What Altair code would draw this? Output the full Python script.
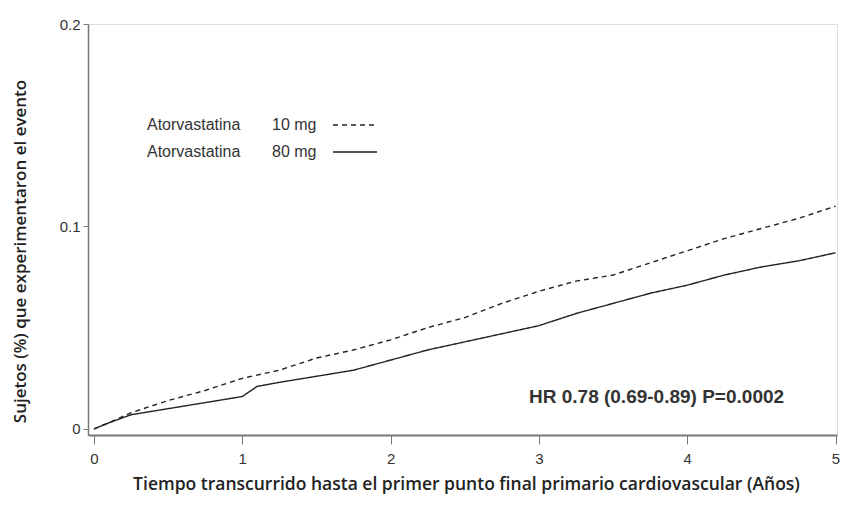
import altair as alt
import pandas as pd

# Years of follow-up
t10 = [0, 0.1, 0.25, 0.5, 0.75, 1.0, 1.25, 1.5, 1.75, 2.0, 2.25, 2.5, 2.75, 3.0,
       3.25, 3.5, 3.75, 4.0, 4.25, 4.5, 4.75, 5.0]
p10 = [0, 0.003, 0.008, 0.014, 0.019, 0.025, 0.029, 0.035, 0.039, 0.044, 0.050,
       0.055, 0.062, 0.068, 0.073, 0.076, 0.082, 0.088, 0.094, 0.099, 0.104, 0.110]
t80 = [0, 0.1, 0.25, 0.5, 0.75, 1.0, 1.1, 1.25, 1.5, 1.75, 2.0, 2.25, 2.5, 2.75,
       3.0, 3.25, 3.5, 3.75, 4.0, 4.25, 4.5, 4.75, 5.0]
p80 = [0, 0.003, 0.007, 0.010, 0.013, 0.016, 0.021, 0.023, 0.026, 0.029, 0.034,
       0.039, 0.043, 0.047, 0.051, 0.057, 0.062, 0.067, 0.071, 0.076, 0.080, 0.083,
       0.087]
series = ["Atorvastatina 10 mg", "Atorvastatina 80 mg"]
legend_drug = ["Atorvastatina", "Atorvastatina"]
legend_dose = ["10 mg", "80 mg"]
hr_text = "HR 0.78 (0.69-0.89)  P=0.0002"
x_ticks = [0, 1, 2, 3, 4, 5]
y_ticks = [0, 0.1, 0.2]

df = pd.concat([
    pd.DataFrame({"t": t10, "p": p10, "grupo": series[0]}),
    pd.DataFrame({"t": t80, "p": p80, "grupo": series[1]}),
])

W, H = 749, 411
ink = "#222222"

x = alt.X("t:Q", scale=alt.Scale(domain=[-0.04, 5.01], nice=False, zero=False),
          axis=alt.Axis(values=x_ticks, format="d", grid=False, tickSize=9,
                        labelPadding=7, labelFontSize=15, labelFont="Liberation Sans",
                        labelColor="#333", domainColor="#777", domainWidth=2,
                        tickColor="#777", title="Tiempo transcurrido hasta el primer punto final primario cardiovascular (Años)",
                        titleFont="Open Sans", titleFontSize=17.5, titleFontWeight=600,
                        titleColor="#222", titlePadding=9, titleX=378))
y = alt.Y("p:Q", scale=alt.Scale(domain=[-0.003, 0.2], nice=False, zero=False),
          axis=alt.Axis(values=y_ticks, format="~g", grid=False, tickSize=5,
                        labelPadding=3, labelFontSize=15, labelFont="Liberation Sans",
                        labelColor="#333", domainColor="#777", domainWidth=1.5,
                        tickColor="#777", title="Sujetos (%) que experimentaron el evento",
                        titleFont="Open Sans", titleFontSize=17, titleFontWeight=600,
                        titleColor="#222", titlePadding=30, titleY=227))

dash = alt.StrokeDash("grupo:N", scale=alt.Scale(domain=series, range=[[5, 4], [1, 0]]),
                      legend=None)

lines = alt.Chart(df).mark_line(color=ink, strokeWidth=1.4).encode(x=x, y=y, strokeDash=dash)

leg_df = pd.DataFrame({"drug": legend_drug, "dose": legend_dose, "grupo": series,
                       "row": [0, 1]})
row_y = alt.Y("row:Q", scale=alt.Scale(domain=[0, 1], range=[101, 128]), axis=None)
leg_drug = alt.Chart(leg_df).mark_text(align="left", baseline="middle", fontSize=16,
                                       font="Liberation Sans", color="#333").encode(
    x=alt.value(59), y=row_y, text="drug:N")
leg_dose = alt.Chart(leg_df).mark_text(align="left", baseline="middle", fontSize=16,
                                       font="Liberation Sans", color="#333").encode(
    x=alt.value(184), y=row_y, text="dose:N")
leg_line = alt.Chart(leg_df).mark_rule(color=ink, strokeWidth=1.4).encode(
    x=alt.value(245), x2=alt.value(289), y=row_y, strokeDash=dash)

hr = alt.Chart(pd.DataFrame({"txt": [hr_text]})).mark_text(
    align="left", baseline="middle", fontSize=19, font="Liberation Sans", fontWeight="bold",
    color="#333").encode(x=alt.value(441), y=alt.value(373), text="txt:N")

chart = alt.layer(lines, leg_drug, leg_dose, leg_line, hr).resolve_scale(y="independent").properties(
    width=W, height=H,
    autosize=alt.AutoSizeParams(type="none"),
    padding={"left": 80, "top": 16, "right": 15, "bottom": 63},
).configure_view(stroke=None).configure(background="white")

chart.save("out.html", embed_options={"renderer": "svg", "actions": False})
